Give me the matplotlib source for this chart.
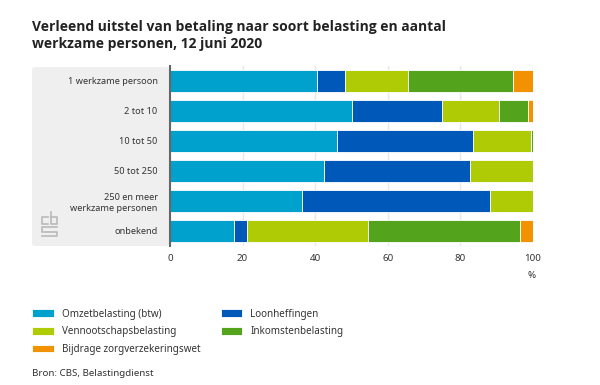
import matplotlib.pyplot as plt
import numpy as np
from matplotlib.patches import FancyBboxPatch

plt.rcParams['font.family'] = ['Noto Sans', 'DejaVu Sans']

categories = ['1 werkzame persoon', '2 tot 10', '10 tot 50', '50 tot 250',
              '250 en meer\nwerkzame personen', 'onbekend']
omzet = [40.6, 50.0, 46.1, 42.5, 36.3, 17.6]
loon = [7.7, 25.0, 37.5, 40.1, 51.9, 3.5]
vennoot = [17.2, 15.7, 15.8, 17.4, 11.8, 33.4]
inkomsten = [29.0, 8.0, 0.6, 0.0, 0.0, 41.8]
zorg = [5.5, 1.3, 0.0, 0.0, 0.0, 3.7]

series_names = ['Omzetbelasting (btw)', 'Vennootschapsbelasting', 'Bijdrage zorgverzekeringswet',
                'Loonheffingen', 'Inkomstenbelasting']
series_values = [omzet, vennoot, zorg, loon, inkomsten]
colors = ['#00a1cd', '#afcb05', '#f39200', '#0058b8', '#53a31d']
stack_order = [0, 3, 1, 4, 2]

W, H = 600, 385
text_color = '#333333'

fig = plt.figure(figsize=(6, 3.85), dpi=100)

# grey panel behind the category labels
panel = FancyBboxPatch((32 / W, 1 - 246 / H), 137 / W, 179 / H,
                       boxstyle='round,pad=0,rounding_size=0.006',
                       transform=fig.transFigure, fc='#efefef', ec='none', zorder=0)
fig.add_artist(panel)

ax = fig.add_axes([170 / W, 1 - 246 / H, 363 / W, 180 / H])
ax.patch.set_alpha(0)

y = np.arange(len(categories))
left = np.zeros(len(categories))
handles = {}
for i in stack_order:
    vals = np.array(series_values[i])
    handles[i] = ax.barh(y, vals, left=left, height=0.76, color=colors[i],
                         edgecolor='#ffffff', linewidth=0.6, zorder=3, label=series_names[i])
    left += vals

ax.set_xlim(0, 100)
ax.set_ylim(5.5, -0.5)
ax.set_xticks([0, 20, 40, 60, 80, 100])
ax.set_yticks(y)
ax.set_yticklabels(categories, fontsize=6.6, color=text_color, linespacing=1.25)
ax.tick_params(axis='y', length=0, pad=9)
ax.tick_params(axis='x', length=0, pad=6, labelsize=7, labelcolor=text_color)
ax.grid(axis='x', color='#e8e8e8', linewidth=1, zorder=1)
for s in ['top', 'right', 'bottom']:
    ax.spines[s].set_visible(False)
ax.spines['left'].set_color('#666666')
ax.spines['left'].set_linewidth(1.5)
ax.spines['left'].set_zorder(5)

fig.text(527 / W, 1 - 276 / H, '%', fontsize=7, color=text_color, ha='left', va='center')

# cbs logo, pixel offsets from its top left corner
logo_parts = [
    [(6, 5), (0, 5), (0, 12), (6, 12)],
    [(9, 0), (9, 12), (15, 12), (15, 5), (9, 5)],
    [(15, 15), (0, 15), (0, 19.5), (15, 19.5), (15, 24), (0, 24)],
]
for part in logo_parts:
    px = np.array([p[0] for p in part])
    py = np.array([p[1] for p in part])
    fig.add_artist(plt.Line2D((42 + px) / W, 1 - (212 + py) / H, color='#b9b9b9',
                              linewidth=1.2, transform=fig.transFigure))

title_font = dict(fontsize=10, fontweight='bold', color='#222222', va='center', family='Open Sans')
fig.text(32 / W, 1 - 27 / H, 'Verleend uitstel van betaling naar soort belasting en aantal', **title_font)
fig.text(32 / W, 1 - 44 / H, 'werkzame personen, 12 juni 2020', **title_font)

legend_handles = [handles[i][0] for i in range(5)]
leg = fig.legend(legend_handles, series_names, ncol=2, frameon=False, fontsize=7.1,
                 loc='upper left', bbox_to_anchor=(32 / W, 1 - 308.5 / H), borderaxespad=0,
                 borderpad=0, handlelength=2.2, handleheight=0.85, handletextpad=0.8,
                 labelspacing=0.68, columnspacing=2.1, labelcolor=text_color)

fig.text(32 / W, 1 - 373 / H, 'Bron: CBS, Belastingdienst', fontsize=7, color=text_color, va='center')

fig.savefig('out.png', dpi=100)
